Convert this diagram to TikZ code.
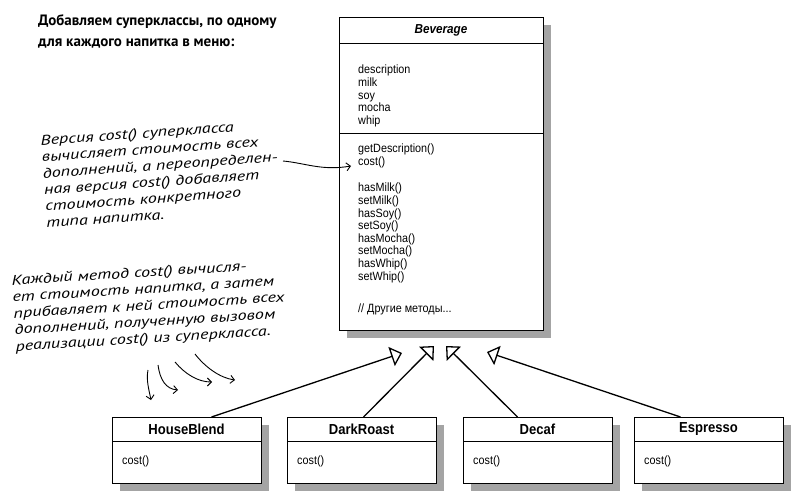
\documentclass[tikz,border=0pt]{standalone}
\usepackage{fontspec}
\usepackage{xcolor}
\usetikzlibrary{arrows.meta,shadows}
\setmainfont{Liberation Sans}
\newfontfamily\umlfont[FakeStretch=0.9]{Liberation Sans}
\newfontfamily\handfont[FakeStretch=1.3]{PT Sans}
\newfontfamily\headfont{PT Sans}
\definecolor{shade}{HTML}{A4A4A4}

\begin{document}
\begin{tikzpicture}[x=1pt, y=-1pt,
    classbox/.style={draw, line width=0.8pt, fill=white, anchor=north west, inner sep=0pt, outer sep=0pt,
      minimum width=149pt, minimum height=66pt,
      drop shadow={shadow xshift=8pt, shadow yshift=-8pt, fill=shade, opacity=1}},
    classname/.style={font=\umlfont\fontsize{14.5}{16}\selectfont\bfseries},
    member/.style={anchor=north west, align=left, inner sep=0pt, font=\umlfont\fontsize{12}{12.6}\selectfont},
    note/.style={anchor=north west, align=left, inner sep=0pt, rotate=4,
      font=\handfont\itshape\fontsize{14}{16.5}\selectfont},
    inherit/.style={line width=1.3pt, -{Triangle[open, length=11pt, width=20pt]}},
    scribble/.style={line width=0.9pt, -{Straight Barb[length=4pt, width=8pt]}}]

  \useasboundingbox (0,0) rectangle (794,494);

  % Заголовок
  \node[anchor=north west, align=left, inner sep=0pt, font=\headfont\bfseries\fontsize{15}{21}\selectfont] (head) at (38,14)
    {Добавляем суперклассы, по одному\\для каждого напитка в меню:};

  % Суперкласс Beverage
  \node[classbox, minimum width=204pt, minimum height=313pt] (bev) at (339,17) {};
  \draw[line width=0.8pt] (bev.north west) ++(0,26) -- ++(204,0);
  \draw[line width=0.8pt] (bev.north west) ++(0,116) -- ++(204,0);
  \node[font=\umlfont\fontsize{13}{15}\selectfont\bfseries\itshape] (bevname) at (441,30) {Beverage};
  \node[member] (bevattr) at (358,65) {description\\milk\\soy\\mocha\\whip};
  \node[member] (bevget) at (358,144) {getDescription()\\cost()};
  \node[member] (bevhas) at (358,183)
    {hasMilk()\\setMilk()\\hasSoy()\\setSoy()\\hasMocha()\\setMocha()\\hasWhip()\\setWhip()};
  \node[member] (bevother) at (358,304) {// Другие методы...};

  % Подклассы
  \node[classbox] (hb) at (112,417) {};
  \draw[line width=0.8pt] (hb.north west) ++(0,24) -- ++(149,0);
  \node[classname] (hbname) at (186.5,429) {HouseBlend};
  \node[member, anchor=base west] (hbcost) at (122,464) {cost()};

  \node[classbox] (dr) at (287,417) {};
  \draw[line width=0.8pt] (dr.north west) ++(0,24) -- ++(149,0);
  \node[classname] (drname) at (361.5,429) {DarkRoast};
  \node[member, anchor=base west] (drcost) at (297,464) {cost()};

  \node[classbox] (dc) at (463,417) {};
  \draw[line width=0.8pt] (dc.north west) ++(0,24) -- ++(149,0);
  \node[classname] (dcname) at (537.5,429) {Decaf};
  \node[member, anchor=base west] (dccost) at (473,464) {cost()};

  \node[classbox] (es) at (634,417) {};
  \draw[line width=0.8pt] (es.north west) ++(0,24) -- ++(149,0);
  \node[classname] (esname) at (708.5,429) {Espresso};
  \node[member, anchor=base west] (escost) at (644,464) {cost()};

  % Наследование
  \coordinate (hbtip) at (402,353);
  \coordinate (drtip) at (434,346);
  \coordinate (dctip) at (446,346);
  \coordinate (estip) at (487,352);
  \draw[inherit] ([xshift=25pt]hb.north) -- (hbtip);
  \draw[inherit] ([xshift=2pt]dr.north) -- (drtip);
  \draw[inherit] ([xshift=-20pt]dc.north) -- (dctip);
  \draw[inherit] ([xshift=-28pt]es.north) -- (estip);

  % Пометки от руки
  \node[note] (costnote) at (40,135)
    {Версия cost() суперкласса\\вычисляет стоимость всех\\дополнений, а переопределен-\\ная версия cost() добавляет\\стоимость конкретного\\типа напитка.};
  \node[note, rotate=-0.5, font=\handfont\itshape\fontsize{14}{16.5}\selectfont] (eachnote) at (11,275)
    {Каждый метод cost() вычисля-\\ет стоимость напитка, а затем\\прибавляет к ней стоимость всех\\дополнений, полученную вызовом\\реализации cost() из суперкласса.};

  \coordinate (costfrom) at (283,161);
  \coordinate (costto) at (351,166);
  \draw[scribble] (costfrom) .. controls (305,163) and (322,171) .. (costto);

  \coordinate (s1) at (148,370);
  \coordinate (e1) at (151,400);
  \coordinate (s2) at (158,365);
  \coordinate (e2) at (178,390);
  \coordinate (s3) at (175,362);
  \coordinate (e3) at (212,382);
  \coordinate (s4) at (195,354);
  \coordinate (e4) at (235,380);
  \draw[scribble] (s1) .. controls (146,380) and (149,390) .. (e1);
  \draw[scribble] (s2) .. controls (160,380) and (166,389) .. (e2);
  \draw[scribble] (s3) .. controls (185,374) and (198,382) .. (e3);
  \draw[scribble] (s4) .. controls (205,367) and (220,378) .. (e4);
\end{tikzpicture}
\end{document}
